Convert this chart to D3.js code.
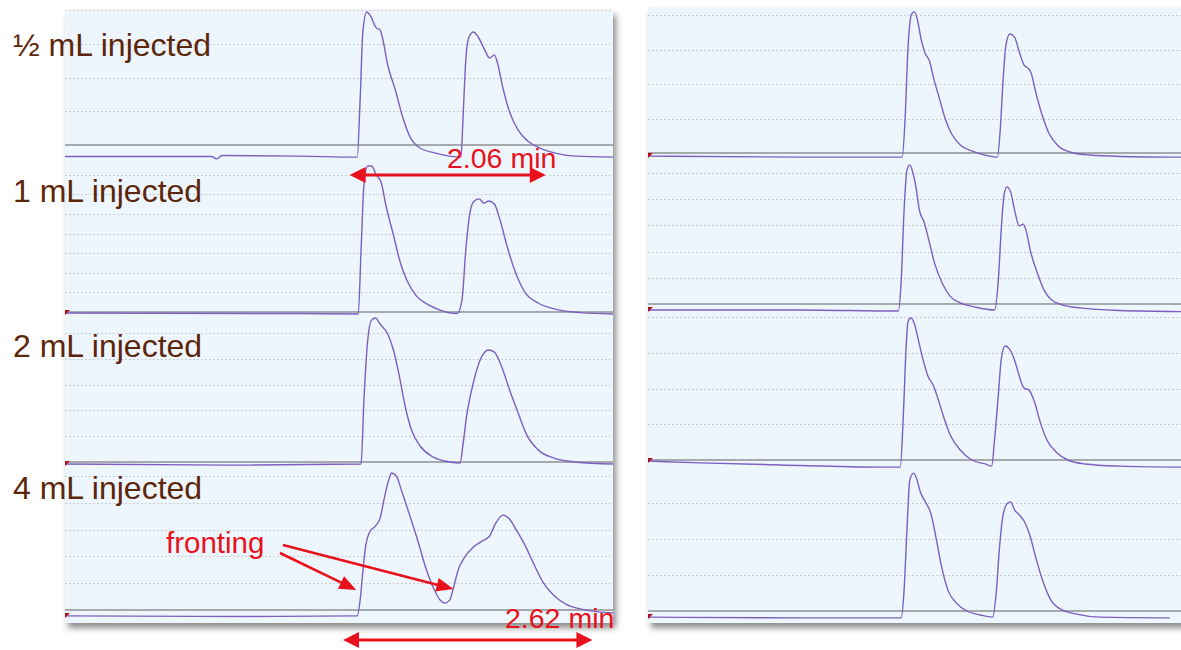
<!DOCTYPE html>
<html>
<head>
<meta charset="utf-8">
<script src="https://cdn.jsdelivr.net/npm/d3@7"></script>
<style>
  html, body { margin: 0; padding: 0; background: #ffffff; }
  svg { display: block; font-family: "Liberation Sans", Arial, sans-serif; }
</style>
</head>
<body>
<svg id="chart" width="1181" height="650"></svg>
<script>
// ---- Data -----------------------------------------------------------------
// Each trace: [retention time (min), detector signal (mAU, gridline step = 100)]
const injectedLabels = ["½ mL injected", "1 mL injected", "2 mL injected", "4 mL injected"];

// number of dotted gridlines above the zero line in each stacked chromatogram
const gridCountsLeft  = [4, 7, 5, 5];
const gridCountsRight = [4, 5, 4, 3];

const leftHalfML = [
  [0,-34],[0.79,-34],[1.54,-34],[1.59,-41],[1.65,-31],[2.47,-33],[3.07,-36],[3.10,133],[3.13,341],
  [3.17,394],[3.21,382],[3.27,347],[3.31,341],[3.34,311],[3.39,237],[3.47,163],[3.55,80],[3.63,21],
  [3.73,-9],[3.89,-24],[4.04,-33],[4.16,-36],[4.18,74],[4.21,252],[4.24,317],[4.29,335],[4.34,320],
  [4.41,281],[4.46,258],[4.51,267],[4.54,246],[4.60,169],[4.67,98],[4.76,44],[4.86,12],[4.99,-9],
  [5.15,-24],[5.36,-33],[5.76,-36]
];
const left1mL = [
  [0,-5],[2.47,-8],[3.08,-10],[3.11,316],[3.14,648],[3.18,745],[3.22,745],[3.27,699],[3.32,663],
  [3.37,546],[3.45,393],[3.52,255],[3.59,163],[3.69,82],[3.80,41],[3.94,10],[4.12,-8],[4.17,61],
  [4.21,316],[4.25,495],[4.29,561],[4.35,577],[4.40,556],[4.45,566],[4.51,551],[4.57,469],[4.64,342],
  [4.73,204],[4.83,102],[4.97,46],[5.15,15],[5.41,-3],[5.76,-10]
];
const left2mL = [
  [0,-8],[1.94,-12],[3.11,-8],[3.14,240],[3.18,473],[3.22,550],[3.26,558],[3.31,535],[3.39,496],
  [3.45,434],[3.51,337],[3.57,221],[3.64,124],[3.73,62],[3.85,23],[3.99,4],[4.15,-4],[4.18,66],
  [4.22,182],[4.26,260],[4.31,337],[4.37,403],[4.45,434],[4.51,426],[4.58,376],[4.67,279],[4.76,190],
  [4.85,105],[4.97,47],[5.13,16],[5.36,0],[5.76,-8]
];
const left4mL = [
  [0,-22],[1.94,-24],[3.07,-22],[3.10,37],[3.13,149],[3.16,243],[3.20,291],[3.26,313],[3.31,343],
  [3.35,410],[3.40,485],[3.43,511],[3.48,500],[3.54,440],[3.62,354],[3.71,254],[3.79,157],[3.88,75],
  [3.94,37],[3.99,26],[4.04,37],[4.08,82],[4.13,149],[4.20,198],[4.29,235],[4.38,257],[4.46,276],
  [4.52,321],[4.60,354],[4.66,343],[4.74,299],[4.83,243],[4.92,175],[5.02,104],[5.13,56],[5.26,22],
  [5.41,4],[5.60,-7],[5.76,-11]
];

const rightHalfML = [
  [0,-9],[1.60,-12],[2.67,-12],[2.70,96],[2.73,299],[2.77,403],[2.80,409],[2.83,386],[2.87,328],
  [2.91,290],[2.96,264],[3.00,217],[3.06,159],[3.12,101],[3.19,55],[3.28,23],[3.40,6],[3.54,-6],
  [3.67,-12],[3.70,67],[3.73,212],[3.76,313],[3.80,345],[3.85,336],[3.90,293],[3.95,255],[3.99,246],
  [4.02,235],[4.08,168],[4.14,110],[4.21,58],[4.31,20],[4.43,3],[4.64,-6],[4.96,-10],[5.60,-12]
];
const right1mL = [
  [0,-23],[1.60,-23],[2.63,-27],[2.66,92],[2.69,359],[2.72,511],[2.75,531],[2.78,504],[2.82,435],
  [2.85,359],[2.90,313],[2.95,244],[3.01,156],[3.09,80],[3.17,31],[3.28,4],[3.43,-11],[3.64,-23],
  [3.68,92],[3.71,282],[3.74,416],[3.77,447],[3.81,427],[3.85,359],[3.90,298],[3.94,305],[3.97,282],
  [4.02,198],[4.09,118],[4.16,53],[4.24,15],[4.36,-4],[4.54,-15],[4.96,-25],[5.60,-29]
];
const right2mL = [
  [0,-3],[0.55,-8],[1.39,-14],[2.44,-20],[2.65,-20],[2.68,112],[2.71,308],[2.73,386],[2.76,397],
  [2.80,380],[2.84,336],[2.89,280],[2.94,235],[3.00,207],[3.05,168],[3.11,117],[3.18,67],[3.28,28],
  [3.40,0],[3.54,-11],[3.61,-17],[3.64,56],[3.68,182],[3.71,280],[3.75,319],[3.79,313],[3.85,280],
  [3.90,235],[3.95,201],[4.00,196],[4.06,162],[4.12,106],[4.19,56],[4.29,22],[4.41,0],[4.59,-11],
  [4.96,-17],[5.60,-20]
];
const right4mL = [
  [0,-17],[1.60,-19],[2.66,-19],[2.69,58],[2.72,225],[2.75,364],[2.79,383],[2.82,369],[2.86,331],
  [2.92,300],[2.97,272],[3.02,211],[3.08,128],[3.15,58],[3.24,22],[3.35,0],[3.49,-11],[3.62,-17],
  [3.66,58],[3.69,169],[3.73,267],[3.78,300],[3.81,303],[3.85,281],[3.90,267],[3.95,250],[4.01,211],
  [4.08,142],[4.15,81],[4.23,31],[4.35,3],[4.49,-8],[4.75,-17],[5.48,-19]
];

const tracesLeft  = [leftHalfML, left1mL, left2mL, left4mL];
const tracesRight = [rightHalfML, right1mL, right2mL, right4mL];

// retention-time spans marked with double arrows (min)
const spanHalfML = [2.99, 5.05];
const span4mL    = [2.92, 5.54];
// points on the 4 mL trace marked as fronting [min, mAU]
const frontingPoints = [[3.06, 75], [4.08, 78]];

// ---- Layout -----------------------------------------------------------------
const svg = d3.select("#chart");
const PX_PER_MIN = 95.2;

const panels = [
  { x0: 65,  x1: 613,  y0: 10, y1: 623,
    frames: [{ zero: 145, step: 33.75 }, { zero: 312, step: 19.6 }, { zero: 462, step: 25.8 }, { zero: 610, step: 26.8 }],
    grids: gridCountsLeft, traces: tracesLeft, marks: [false, true, true, true] },
  { x0: 648, x1: 1190, y0: 7,  y1: 623,
    frames: [{ zero: 153, step: 34.5 }, { zero: 304, step: 26.2 }, { zero: 460, step: 35.75 }, { zero: 611, step: 36 }],
    grids: gridCountsRight, traces: tracesRight, marks: [true, true, true, true] }
];

const defs = svg.append("defs");
const shadow = defs.append("filter").attr("id", "panelShadow")
  .attr("x", "-5%").attr("y", "-5%").attr("width", "115%").attr("height", "115%");
shadow.append("feDropShadow").attr("dx", 3).attr("dy", 5).attr("stdDeviation", 3)
  .attr("flood-color", "#000").attr("flood-opacity", 0.45);

const TRACE = "#7d5fc0";
const RED = "#e8111c";

panels.forEach((p, pi) => {
  const g = svg.append("g");
  g.append("rect")
    .attr("x", p.x0).attr("y", p.y0)
    .attr("width", p.x1 - p.x0).attr("height", p.y1 - p.y0)
    .attr("fill", "#eef6fd")
    .attr("filter", "url(#panelShadow)");

  const clipId = "clip" + pi;
  defs.append("clipPath").attr("id", clipId).append("rect")
    .attr("x", p.x0).attr("y", p.y0).attr("width", p.x1 - p.x0).attr("height", p.y1 - p.y0);
  const inner = g.append("g").attr("clip-path", `url(#${clipId})`);

  const x = d3.scaleLinear()
    .domain([0, (p.x1 - p.x0) / PX_PER_MIN])
    .range([p.x0, p.x1]);
  p.x = x;
  p.y = [];

  p.frames.forEach((f, i) => {
    const n = p.grids[i];
    const y = d3.scaleLinear().domain([0, 100 * n]).range([f.zero, f.zero - n * f.step]);
    p.y.push(y);

    // dotted gridlines
    inner.append("g").selectAll("line")
      .data(d3.range(1, n + 1).map(k => k * 100))
      .join("line")
      .attr("x1", p.x0).attr("x2", p.x1)
      .attr("y1", d => Math.round(y(d)) + 0.5).attr("y2", d => Math.round(y(d)) + 0.5)
      .attr("stroke", "#c9cdd2").attr("stroke-width", 1)
      .attr("stroke-dasharray", "2,2");

    // zero line
    inner.append("line")
      .attr("x1", p.x0).attr("x2", p.x1)
      .attr("y1", y(0)).attr("y2", y(0))
      .attr("stroke", "#8e9093").attr("stroke-width", 1.6);
  });

  p.frames.forEach((f, i) => {
    const y = p.y[i];
    const line = d3.line()
      .x(d => x(d[0]))
      .y(d => y(d[1]))
      .curve(d3.curveMonotoneX);
    inner.append("path")
      .datum(p.traces[i])
      .attr("d", line)
      .attr("fill", "none")
      .attr("stroke", TRACE)
      .attr("stroke-width", 1.4)
      .attr("stroke-linejoin", "round");

    if (p.marks[i]) {
      const sy = y(p.traces[i][0][1]);
      inner.append("path")
        .attr("d", `M${p.x0},${sy - 3} L${p.x0 + 5},${sy - 3} L${p.x0},${sy + 2} Z`)
        .attr("fill", "#b0101a");
    }
  });
});

// ---- Labels -----------------------------------------------------------------
const labelY = [56, 202, 357, 499];
svg.append("g").selectAll("text")
  .data(injectedLabels)
  .join("text")
  .attr("x", 13)
  .attr("y", (d, i) => labelY[i])
  .attr("font-size", 32)
  .attr("fill", "#5c260b")
  .text(d => d);

// ---- Annotations --------------------------------------------------------------
function arrowHead(g, tx, ty, angle, len, wid) {
  const c = Math.cos(angle), s = Math.sin(angle);
  const bx = tx - c * len, by = ty - s * len;
  const px = -s * wid / 2, py = c * wid / 2;
  g.append("path")
    .attr("d", `M${tx},${ty} L${bx + px},${by + py} L${bx - px},${by - py} Z`)
    .attr("fill", RED);
}

function doubleArrow(x1, x2, yy) {
  const g = svg.append("g");
  g.append("line")
    .attr("x1", x1 + 8).attr("x2", x2 - 8)
    .attr("y1", yy).attr("y2", yy)
    .attr("stroke", RED).attr("stroke-width", 3);
  arrowHead(g, x1, yy, Math.PI, 16, 16);
  arrowHead(g, x2, yy, 0, 16, 16);
}

const L = panels[0];
doubleArrow(L.x(spanHalfML[0]), L.x(spanHalfML[1]), 175);
doubleArrow(L.x(span4mL[0]), L.x(span4mL[1]), 640);

svg.append("text")
  .attr("x", 447).attr("y", 168)
  .attr("font-size", 28.5).attr("fill", RED)
  .text(`${(spanHalfML[1] - spanHalfML[0]).toFixed(2)} min`);
svg.append("text")
  .attr("x", 505).attr("y", 628)
  .attr("font-size", 28.5).attr("fill", RED)
  .text(`${(span4mL[1] - span4mL[0]).toFixed(2)} min`);

svg.append("text")
  .attr("x", 166).attr("y", 553)
  .attr("font-size", 29.5).attr("fill", RED)
  .text("fronting");

const frontStarts = [[280, 553], [283, 545]];
const fg = svg.append("g");
frontingPoints.forEach((pt, i) => {
  const tx = L.x(pt[0]), ty = L.y[3](pt[1]);
  const [sx, sy] = frontStarts[i];
  const ang = Math.atan2(ty - sy, tx - sx);
  const len = 17;
  fg.append("line")
    .attr("x1", sx).attr("y1", sy)
    .attr("x2", tx - Math.cos(ang) * (len - 2)).attr("y2", ty - Math.sin(ang) * (len - 2))
    .attr("stroke", RED).attr("stroke-width", 2.6);
  arrowHead(fg, tx, ty, ang, len, 14);
});
</script>
</body>
</html>
